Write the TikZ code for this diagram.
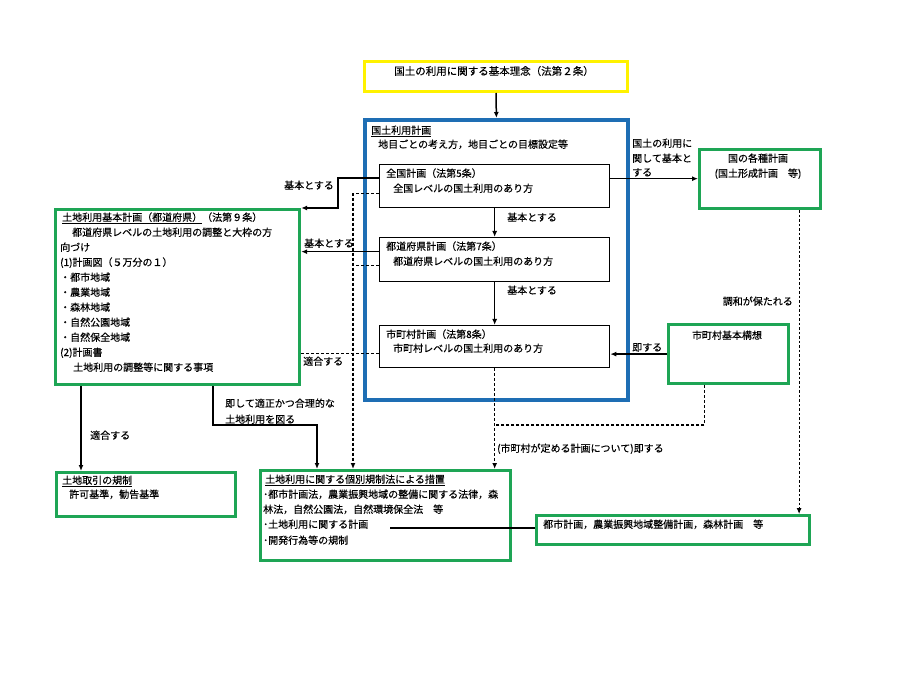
\documentclass[tikz,border=0pt]{standalone}
\usepackage{fontspec}
\setmainfont{Noto Sans CJK JP}[FakeBold=0.35]
\usetikzlibrary{arrows.meta}
\definecolor{kyellow}{RGB}{255,242,0}
\definecolor{kblue}{RGB}{30,110,180}
\definecolor{kgreen}{RGB}{30,165,85}
\begin{document}
\begin{tikzpicture}[x=1pt,y=-1pt,
  box/.style={draw, inner sep=0pt, anchor=north west},
  ybox/.style={box, draw=kyellow, line width=3pt},
  bbox/.style={box, draw=kblue, line width=3.8pt},
  gbox/.style={box, draw=kgreen, line width=3.2pt},
  kbox/.style={box, draw=black, line width=1.3pt},
  txt/.style={inner sep=0pt, anchor=base west, font=\fontsize{10}{12}\selectfont},
  ctxt/.style={txt, anchor=base},
  etxt/.style={txt, anchor=base east},
  conn/.style={line width=1.5pt, -{Latex[length=6pt,width=5pt]}},
  sline/.style={line width=1.5pt},
  dconn/.style={line width=1.5pt, dash pattern=on 3pt off 2pt, -{Latex[length=6pt,width=5pt]}},
  dline/.style={line width=1.5pt, dash pattern=on 3pt off 2pt},
  fconn/.style={line width=0.9pt, dash pattern=on 2.5pt off 2pt, -{Latex[length=6pt,width=5pt]}},
]
\useasboundingbox[fill=white] (0,0) rectangle (916,676);

% boxes
\node[ybox, minimum width=263pt, minimum height=30pt] (kihon) at (363,60) {};
\node[bbox, minimum width=263pt, minimum height=280pt] (keikaku) at (363,118) {};
\node[kbox, fill=white, minimum width=230pt, minimum height=43pt] (zenkoku) at (379,164) {};
\node[kbox, fill=white, minimum width=230pt, minimum height=44pt] (todofuken) at (379,237) {};
\node[kbox, fill=white, minimum width=230pt, minimum height=42pt] (shichoson) at (379,325) {};
\node[gbox, minimum width=121pt, minimum height=59pt] (kuni) at (698,148) {};
\node[gbox, minimum width=120pt, minimum height=59pt] (machi) at (667,323) {};
\node[gbox, minimum width=244pt, minimum height=175pt] (tochi) at (54,208) {};
\node[gbox, minimum width=179pt, minimum height=44pt] (dochi) at (55,471) {};
\node[gbox, minimum width=250pt, minimum height=90pt] (kobetsu) at (259,469) {};
\node[gbox, minimum width=273pt, minimum height=29pt] (toshi) at (535,514) {};

% texts
\node[ctxt, font=\fontsize{10.5}{12}\selectfont] (tkihon) at (494,75) {国土の利用に関する基本理念（法第２条）};
\node[txt] (tk1) at (371,134) {\underline{国土利用計画}};
\node[txt] (tk2) at (378,148) {地目ごとの考え方，地目ごとの目標設定等};
\node[txt] (tz1) at (386,177) {全国計画（法第5条）};
\node[txt] (tz2) at (393,192) {全国レベルの国土利用のあり方};
\node[txt] (tt1) at (386,250) {都道府県計画（法第7条）};
\node[txt] (tt2) at (393,265) {都道府県レベルの国土利用のあり方};
\node[txt] (ts1) at (386,338) {市町村計画（法第8条）};
\node[txt] (ts2) at (393,352) {市町村レベルの国土利用のあり方};
\node[txt] (lk1) at (507,221) {基本とする};
\node[txt] (lk2) at (507,294) {基本とする};

\node[ctxt] (tn1) at (758,162) {国の各種計画};
\node[ctxt] (tn2) at (758,177) {(国土形成計画　等)};
\node[txt] (ln1) at (632,147) {国土の利用に};
\node[txt] (ln2) at (632,162) {関して基本と};
\node[txt] (ln3) at (632,176) {する};
\node[etxt] (lch) at (793,305) {調和が保たれる};
\node[ctxt] (tm1) at (727,339) {市町村基本構想};
\node[txt] (lsoku) at (632,351) {即する};
\node[txt] (lsoku2) at (497,452) {(市町村が定める計画について)即する};
\node[txt] (tto1) at (543,528) {都市計画，農業振興地域整備計画，森林計画　等};

\node[txt] (tb1) at (265,483) {\underline{土地利用に関する個別規制法による措置}};
\node[txt] (tb2) at (263,498) {･都市計画法，農業振興地域の整備に関する法律，森};
\node[txt] (tb3) at (263,513) {林法，自然公園法，自然環境保全法　等};
\node[txt] (tb4) at (263,528) {･土地利用に関する計画};
\node[txt] (tb5) at (263,544) {･開発行為等の規制};

\node[txt] (td1) at (62,484) {\underline{土地取引の規制}};
\node[txt] (td2) at (69,498) {許可基準，勧告基準};

\node[txt] (tl1) at (62,221) {\underline{土地利用基本計画（都道府県）}（法第９条）};
\node[txt] (tl2) at (72,236) {都道府県レベルの土地利用の調整と大枠の方};
\node[txt] (tl3) at (60,251) {向づけ};
\node[txt] (tl4) at (60,266) {(1)計画図（５万分の１）};
\node[txt] (tl5) at (60,281) {・都市地域};
\node[txt] (tl6) at (60,296) {・農業地域};
\node[txt] (tl7) at (60,311) {・森林地域};
\node[txt] (tl8) at (60,326) {・自然公園地域};
\node[txt] (tl9) at (60,341) {・自然保全地域};
\node[txt] (tl10) at (60,356) {(2)計画書};
\node[txt] (tl11) at (73,371) {土地利用の調整等に関する事項};

\node[ctxt] (ll1) at (309,189) {基本とする};
\node[ctxt] (ll2) at (329,247) {基本とする};
\node[txt] (ll3) at (303,365) {適合する};
\node[txt] (ll4) at (90,439) {適合する};
\node[txt] (ll5) at (225,407) {即して適正かつ合理的な};
\node[txt] (ll6) at (225,423) {土地利用を図る};

% coordinates
\coordinate (b1) at (338,208);
\coordinate (d1) at (353,469);
\coordinate (e1) at (81,0);
\coordinate (e2) at (213,425);
\coordinate (e3) at (317,0);
\coordinate (j1) at (494,425);
\coordinate (k1) at (390,528);

% connectors
\draw[conn] (kihon.south) -- (keikaku.north);
\draw[conn] (zenkoku.south) -- (todofuken.north);
\draw[conn] (todofuken.south) -- (shichoson.north);
\draw[dconn] (shichoson.south) -- (shichoson.south |- kobetsu.north);
\draw[dline] ([xshift=-24pt]machi.south) |- (j1);
\draw[conn] ([yshift=7.5pt]zenkoku.east) -- ([yshift=7.5pt]zenkoku.east -| kuni.west);
\draw[conn] (machi.west) -- (machi.west -| shichoson.east);
\draw[fconn] ([xshift=39pt]kuni.south) -- ([xshift=39pt]kuni.south |- toshi.north);
\draw[sline] (k1) -- (k1 -| toshi.west);

\draw[conn] ([yshift=8pt]zenkoku.west) -| (b1) -- (tochi.north east);
\draw[conn] ([yshift=8pt]todofuken.west) -- ([yshift=8pt]todofuken.west -| tochi.east);
\draw[dline] ([yshift=-7pt]shichoson.west) -- ([yshift=-7pt]shichoson.west -| tochi.east);
\draw[dconn] ([yshift=-7.5pt]zenkoku.west) -| (d1);
\draw[dline] ([yshift=-6pt]todofuken.west) -- ([yshift=-6pt]todofuken.west -| d1);
\draw[conn] (e1 |- tochi.south) -- (e1 |- dochi.north);
\draw[conn] (e2 |- tochi.south) -- (e2) -| (e3 |- kobetsu.north);
\end{tikzpicture}
\end{document}
